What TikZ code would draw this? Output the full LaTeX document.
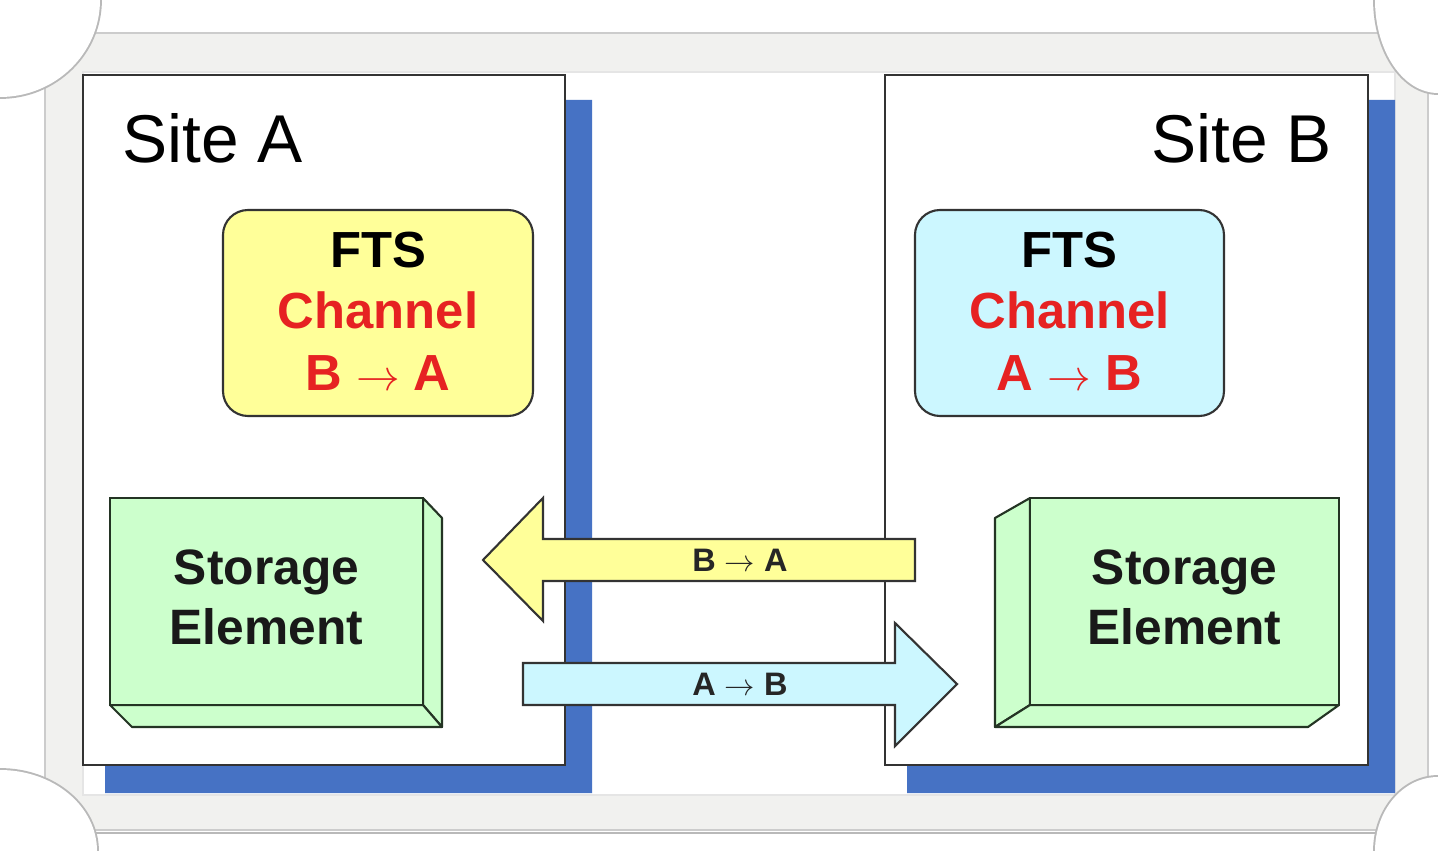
\documentclass[tikz,border=0pt]{standalone}
\usepackage{fontspec}
\setmainfont{Liberation Sans}
\usetikzlibrary{fit}
\definecolor{shadowblue}{HTML}{4672C4}
\definecolor{boxdark}{HTML}{333333}
\definecolor{sedark}{HTML}{243424}
\definecolor{ftsyellow}{HTML}{FFFF99}
\definecolor{ftscyan}{HTML}{CCF7FF}
\definecolor{segreen}{HTML}{CCFFCC}
\definecolor{chanred}{HTML}{E62222}
\definecolor{framegray}{HTML}{F1F1EF}
\begin{document}
\begin{tikzpicture}[x=0.02cm,y=-0.02cm,
  sitebox/.style={draw=boxdark, line width=1.4pt, fill=white, inner sep=0pt},
  shadowband/.style={fill=shadowblue},
  sitetitle/.style={font=\fontsize{38.5}{46}\selectfont, inner sep=0pt, text=black},
  ftsbox/.style={draw=boxdark, line width=1.2pt, rounded corners=0.5cm, inner sep=0pt},
  ftstext/.style={align=center, inner sep=0pt, yshift=1pt,
    font=\fontsize{28.9}{35.2}\selectfont\bfseries},
  sebox/.style={draw=sedark, line width=1.2pt, fill=segreen, inner sep=0pt},
  setext/.style={align=center, inner sep=0pt, yshift=2.3pt,
    font=\fontsize{28.3}{34}\selectfont\bfseries, text=black!90},
  sideface/.style={draw=sedark, line width=1.2pt, fill=segreen, line join=round},
  flowarrow/.style={draw=boxdark, line width=1.2pt, line join=miter},
  arrowlabel/.style={font=\fontsize{18.5}{22}\selectfont\bfseries, text=black!85, inner sep=0pt},
  cornershadow/.style={draw=gray!55, line width=2.2pt},
]
\useasboundingbox (0,0) rectangle (1438,851);
\fill[white] (0,0) rectangle (1438,851);
% photo frame
\draw[gray!55, line width=1.6pt] (45,833) -- (1428,833);
\filldraw[fill=framegray, draw=gray!40, line width=0.7pt] (45,33) rectangle (1428,830);
\filldraw[fill=white, draw=gray!20, line width=0.6pt] (83,72) rectangle (1395,795);

% Site A
\fill[shadowband] (565,100) -- (592,100) -- (592,793) -- (105,793) -- (105,765) -- (565,765) -- cycle;
\node[sitebox, fit={(83,75) (565,765)}] (siteA) {};
\node[sitetitle, anchor=base west] (titleA) at (122,163) {Site A};

% Site B
\fill[shadowband] (1368,100) -- (1395,100) -- (1395,793) -- (907,793) -- (907,765) -- (1368,765) -- cycle;
\node[sitebox, fit={(885,75) (1368,765)}] (siteB) {};
\node[sitetitle, anchor=base east] (titleB) at (1332,163) {Site B};

% FTS channels
\node[ftsbox, fill=ftsyellow, fit={(223,210) (533,416)}] (ftsA) {};
\node[ftstext] (ftsAtext) at (ftsA.center)
  {FTS\\\textcolor{chanred}{Channel}\\\textcolor{chanred}{B $\rightarrow$ A}};
\node[ftsbox, fill=ftscyan, fit={(915,210) (1224,416)}] (ftsB) {};
\node[ftstext] (ftsBtext) at (ftsB.center)
  {FTS\\\textcolor{chanred}{Channel}\\\textcolor{chanred}{A $\rightarrow$ B}};

% Storage element A
\filldraw[sideface] (423,498) -- (442,518) -- (442,727) -- (423,705) -- cycle;
\filldraw[sideface] (110,705) -- (132,727) -- (442,727) -- (423,705) -- cycle;
\node[sebox, fit={(110,498) (423,705)}] (seA) {};
\node[setext] (seAtext) at (seA.center) {Storage\\Element};

% Storage element B
\filldraw[sideface] (1030,498) -- (995,518) -- (995,727) -- (1030,705) -- cycle;
\filldraw[sideface] (1030,705) -- (995,727) -- (1308,727) -- (1339,705) -- cycle;
\node[sebox, fit={(1030,498) (1339,705)}] (seB) {};
\node[setext] (seBtext) at (seB.center) {Storage\\Element};

% transfer arrows
\filldraw[flowarrow, fill=ftsyellow] (915,539) -- (543,539) -- (543,498) -- (483,560)
  -- (543,621) -- (543,581) -- (915,581) -- cycle;
\node[arrowlabel] (lblBA) at (740,560) {B $\rightarrow$ A};
\filldraw[flowarrow, fill=ftscyan] (523,663) -- (895,663) -- (895,623) -- (957,684)
  -- (895,746) -- (895,705) -- (523,705) -- cycle;
\node[arrowlabel] (lblAB) at (740,684) {A $\rightarrow$ B};

% scalloped corners of the frame
\draw[cornershadow] (0,0) ellipse [x radius=100, y radius=97];
\fill[white] (0,0) ellipse [x radius=100, y radius=97];
\draw[cornershadow] (1438,0) ellipse [x radius=63, y radius=93];
\fill[white] (1438,0) ellipse [x radius=63, y radius=93];
\draw[cornershadow] (0,851) ellipse [x radius=97, y radius=81];
\fill[white] (0,851) ellipse [x radius=97, y radius=81];
\draw[cornershadow] (1438,851) ellipse [x radius=63, y radius=74];
\fill[white] (1438,851) ellipse [x radius=63, y radius=74];
\end{tikzpicture}
\end{document}
